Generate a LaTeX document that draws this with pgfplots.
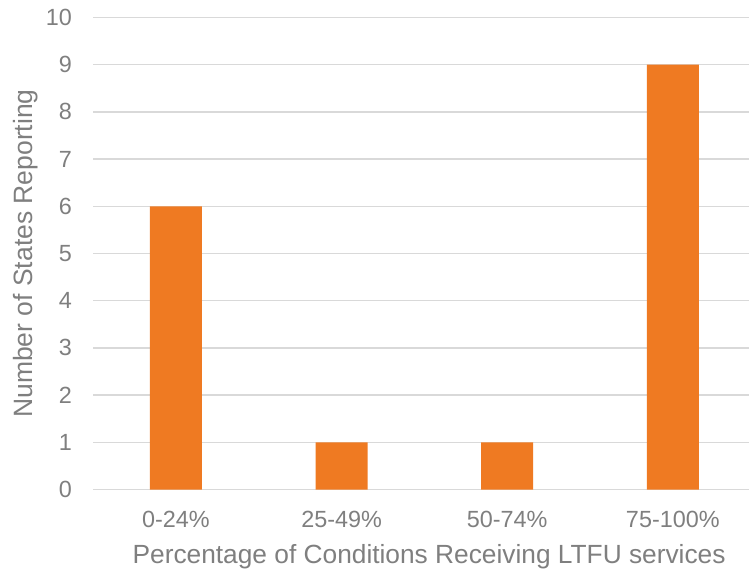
\documentclass[border=0pt]{standalone}
\usepackage{fontspec}
\setmainfont{Liberation Sans}
\usepackage{pgfplots}
\pgfplotsset{compat=1.18}
\definecolor{barorange}{HTML}{EF7A22}
\definecolor{txtgray}{HTML}{7F7F7F}
\definecolor{gridgray}{HTML}{D9D9D9}
\begin{document}
\begin{tikzpicture}
\useasboundingbox (0,0) rectangle (749pt,570pt);
\begin{axis}[
  at={(93.5pt,80.5pt)}, anchor=south west,
  scale only axis,
  width=655.5pt, height=472pt,
  ybar, bar width=52pt,
  xmin=-0.498, xmax=3.46,
  ymin=0, ymax=10,
  ytick={0,1,...,10},
  xtick={0,1,2,3},
  xticklabels={0-24\%,25-49\%,50-74\%,75-100\%},
  /pgf/number format/assume math mode=true,
  axis line style={draw=none},
  tick style={draw=none},
  major tick length=0pt,
  ymajorgrids,
  grid style={gridgray, line width=1.5pt},
  yticklabel style={font=\fontsize{23.4}{28}\selectfont, text=txtgray, anchor=east, inner sep=0pt, xshift=-21.5pt},
  xticklabel style={font=\fontsize{23.4}{28}\selectfont, text=txtgray, anchor=base, inner sep=0pt, yshift=-37.5pt},
  xlabel={Percentage of Conditions Receiving LTFU services},
  ylabel={Number of States Reporting},
  xlabel style={font=\fontsize{26.3}{31}\selectfont, text=txtgray, at={(axis description cs:0.512,0)}, anchor=base, inner sep=0pt, yshift=-73.5pt},
  ylabel style={font=\fontsize{26.5}{31}\selectfont, text=txtgray, at={(axis description cs:-0.0923,0.5)}, rotate=0, anchor=base, inner sep=0pt},
]
\addplot[fill=barorange, draw=none] coordinates {(0,6) (1,1) (2,1) (3,9)};
\end{axis}
\end{tikzpicture}
\end{document}
